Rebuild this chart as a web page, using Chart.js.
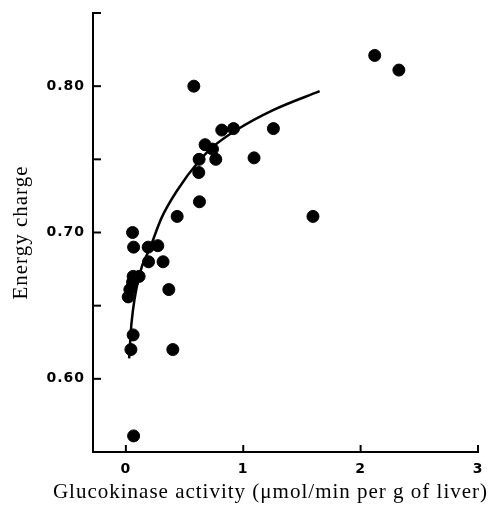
<!DOCTYPE html>
<html>
<head>
<meta charset="utf-8">
<script src="https://cdn.jsdelivr.net/npm/chart.js@4/dist/chart.umd.min.js"></script>
<style>
  html, body { margin: 0; padding: 0; background: #fff; }
  #wrap { width: 490px; height: 506px; }
</style>
</head>
<body>
<div id="wrap"><canvas id="chart"></canvas></div>
<script>
// measured points: glucokinase activity vs energy charge
var activity = [0.579, 2.12, 2.326, 0.817, 0.917, 1.257, 0.675, 0.738, 0.624, 0.766,
  1.092, 0.621, 0.627, 0.437, 1.594, 0.057, 0.066, 0.19, 0.272, 0.193,
  0.317, 0.062, 0.113, 0.057, 0.034, 0.02, 0.366, 0.062, 0.043, 0.40, 0.066];
var charge = [0.800, 0.821, 0.811, 0.770, 0.771, 0.771, 0.760, 0.757, 0.750, 0.750,
  0.751, 0.741, 0.721, 0.711, 0.711, 0.700, 0.690, 0.690, 0.691, 0.680,
  0.680, 0.670, 0.670, 0.666, 0.661, 0.656, 0.661, 0.630, 0.620, 0.620, 0.561];

// fitted curve
var curveX = [0.028, 0.048, 0.119, 0.204, 0.304, 0.431, 0.63, 0.743, 0.942, 1.254, 1.651];
var curveY = [0.614, 0.638, 0.672, 0.689, 0.710, 0.728, 0.7495, 0.7586, 0.770, 0.7836, 0.7966];

var xTicks = [0, 1, 2, 3];
var yTicks = [0.55, 0.60, 0.65, 0.70, 0.75, 0.80, 0.85];
var yLabelled = [0.60, 0.70, 0.80];

var xTitle = 'Glucokinase activity (\u03bcmol/min per g of liver)';
var yTitle = 'Energy charge';

function pairs(xs, ys) {
  var out = [];
  for (var i = 0; i < xs.length; i++) out.push({x: xs[i], y: ys[i]});
  return out;
}

// the print is a bit loosely spaced
var spacing = {
  id: 'spacing',
  beforeDraw: function(chart) { chart.ctx.letterSpacing = '1px'; }
};

// tick marks on the inside of the axes + the x title (it sits left of centre)
var innerTicks = {
  id: 'innerTicks',
  afterDraw: function(chart) {
    var c = chart.ctx, xs = chart.scales.x, ys = chart.scales.y;
    c.save();
    c.strokeStyle = '#000';
    c.lineWidth = 2;
    yTicks.forEach(function(v) {
      var py = ys.getPixelForValue(v);
      c.beginPath(); c.moveTo(xs.left, py); c.lineTo(xs.left + 8, py); c.stroke();
    });
    xTicks.forEach(function(v) {
      var px = xs.getPixelForValue(v);
      c.beginPath(); c.moveTo(px, ys.bottom); c.lineTo(px, ys.bottom - 7); c.stroke();
    });
    c.fillStyle = '#000';
    c.font = '21px "Liberation Serif"';
    c.textAlign = 'center';
    c.textBaseline = 'alphabetic';
    c.fillText(xTitle, (xs.left + xs.right) / 2 - 15, 498);
    c.restore();
  }
};

var tickFont = {family: 'DejaVu Sans', size: 14, weight: 'bold'};

var config = {
  type: 'scatter',
  data: {
    datasets: [{
      data: pairs(curveX, curveY),
      showLine: true,
      borderColor: '#000',
      borderWidth: 2.5,
      pointRadius: 0,
      cubicInterpolationMode: 'monotone'
    }, {
      data: pairs(activity, charge),
      backgroundColor: '#000',
      borderColor: '#000',
      pointRadius: 6,
      pointHoverRadius: 6
    }]
  },
  options: {
    responsive: true,
    maintainAspectRatio: false,
    animation: false,
    layout: { padding: { top: 13, right: 12, left: 0, bottom: 0 } },
    plugins: { legend: { display: false }, tooltip: { enabled: false } },
    scales: {
      x: {
        type: 'linear',
        min: -0.28,
        max: 3,
        afterBuildTicks: function(s) { s.ticks = xTicks.map(function(v) { return {value: v}; }); },
        afterFit: function(s) { s.height = 54; },
        grid: { display: false },
        border: { display: true, color: '#000', width: 2 },
        ticks: { color: '#000', font: tickFont, padding: 1, maxRotation: 0 }
      },
      y: {
        min: 0.55,
        max: 0.85,
        afterBuildTicks: function(s) { s.ticks = yTicks.map(function(v) { return {value: v}; }); },
        afterFit: function(s) { s.width = 93; },
        grid: { display: false },
        border: { display: true, color: '#000', width: 2 },
        ticks: {
          color: '#000',
          font: tickFont,
          padding: 0,
          callback: function(v) {
            for (var i = 0; i < yLabelled.length; i++) {
              if (Math.abs(yLabelled[i] - v) < 1e-6) return v.toFixed(2);
            }
            return '';
          }
        },
        title: {
          display: true,
          text: yTitle,
          color: '#000',
          font: {family: 'Liberation Serif', size: 21},
          padding: { top: 9, bottom: 0 }
        }
      }
    }
  },
  plugins: [spacing, innerTicks]
};

window.onload = function() {
  var ctx = document.getElementById('chart').getContext('2d');
  window.myScatter = new Chart(ctx, config);
};
</script>
</body>
</html>
